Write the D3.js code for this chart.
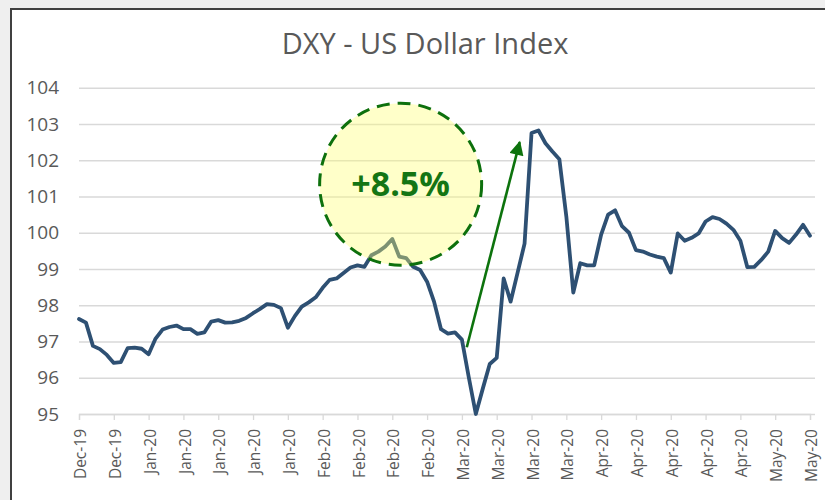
<!DOCTYPE html>
<html>
<head>
<meta charset="utf-8">
<script src="https://cdn.jsdelivr.net/npm/d3@7"></script>
<style>
  body { margin: 0; background: #efefef; }
  svg text { font-family: "Open Sans", sans-serif; }
</style>
</head>
<body>
<div id="chart"></div>
<script>
var width = 825;
var height = 500;

// weekly-ish category labels (one every 5 trading days)
var tickLabels = ["Dec-19", "Dec-19", "Jan-20", "Jan-20", "Jan-20", "Jan-20", "Jan-20",
    "Feb-20", "Feb-20", "Feb-20", "Feb-20", "Mar-20", "Mar-20", "Mar-20", "Mar-20",
    "Apr-20", "Apr-20", "Apr-20", "Apr-20", "Apr-20", "May-20", "May-20"];

// daily DXY closes
var dxyValues = [
    97.62, 97.52, 96.88, 96.79, 96.63, 96.41, 96.43, 96.82, 96.83, 96.80,
    96.65, 97.08, 97.33, 97.40, 97.44, 97.34, 97.34, 97.21, 97.25, 97.55,
    97.59, 97.52, 97.53, 97.57, 97.65, 97.78, 97.90, 98.03, 98.01, 97.92,
    97.38, 97.70, 97.96, 98.08, 98.22, 98.48, 98.70, 98.74, 98.89, 99.04,
    99.10, 99.06, 99.38, 99.48, 99.62, 99.83, 99.34, 99.30, 99.06, 98.97,
    98.65, 98.10, 97.34, 97.22, 97.25, 97.05, 96.00, 95.00, 95.70, 96.38,
    96.55, 98.74, 98.10, 98.90, 99.70, 102.75, 102.82, 102.47, 102.24, 102.03,
    100.45, 98.35, 99.16, 99.10, 99.10, 99.95, 100.50, 100.62, 100.18, 100.00,
    99.52, 99.48, 99.40, 99.34, 99.30, 98.90, 99.98, 99.78, 99.86, 99.98,
    100.31, 100.43, 100.38, 100.25, 100.08, 99.78, 99.05, 99.06, 99.25, 99.48,
    100.05, 99.85, 99.72, 99.95, 100.22, 99.92
];

var yTicks = [95, 96, 97, 98, 99, 100, 101, 102, 103, 104];
var gainLabel = "+8.5%";

var svg = d3.select("#chart").append("svg")
    .attr("width", width)
    .attr("height", height);

// chart frame
svg.append("rect")
    .attr("x", 11).attr("y", 9)
    .attr("width", 830).attr("height", 500)
    .attr("fill", "white")
    .attr("stroke", "#404040")
    .attr("stroke-width", 2);

var x = d3.scaleLinear().domain([0, dxyValues.length - 1]).range([79, 810]);
var y = d3.scaleLinear().domain([95, 104]).range([414, 87.75]);

svg.append("text")
    .attr("x", 425).attr("y", 54)
    .attr("text-anchor", "middle")
    .attr("fill", "#595959")
    .style("font-size", "29px")
    .text("DXY - US Dollar Index");

// gridlines + y labels
var yAxis = d3.axisLeft(y).tickValues(yTicks).tickSize(-(810 - 79 + 5)).tickPadding(20);
var gy = svg.append("g").attr("transform", "translate(79,0)").call(yAxis);
gy.select(".domain").remove();
gy.selectAll(".tick line").attr("stroke", "#d9d9d9").attr("stroke-width", 1.3);
gy.selectAll(".tick text")
    .attr("fill", "#595959")
    .style("font-size", "19px");

// x axis: ticks every 5 points
var tickIdx = tickLabels.map(function(d, i) { return i * 5; });
var xAxis = d3.axisBottom(x).tickValues(tickIdx).tickSize(6)
    .tickFormat(function(d, i) { return tickLabels[i]; });
var gx = svg.append("g").attr("transform", "translate(0,414)").call(xAxis);
gx.select(".domain").attr("stroke", "#d9d9d9").attr("stroke-width", 1.3);
gx.selectAll(".tick line").attr("stroke", "#d9d9d9").attr("stroke-width", 1.3);
gx.selectAll(".tick text")
    .attr("fill", "#595959")
    .style("font-size", "15.5px")
    .attr("text-anchor", "end")
    .attr("transform", "translate(1,15) rotate(-90)")
    .attr("x", 0).attr("y", 0).attr("dy", "0.36em");

// the index line
var line = d3.line()
    .x(function(d, i) { return x(i); })
    .y(function(d) { return y(d); });

svg.append("path")
    .datum(dxyValues)
    .attr("d", line)
    .attr("fill", "none")
    .attr("stroke", "#2e5073")
    .attr("stroke-width", 3.8)
    .attr("stroke-linejoin", "round")
    .attr("stroke-linecap", "round");

// annotation circle
svg.append("circle")
    .attr("cx", x(46.2)).attr("cy", y(101.34))
    .attr("r", 81)
    .attr("fill", "#ffff70")
    .attr("fill-opacity", 0.38)
    .attr("stroke", "#0d700d")
    .attr("stroke-width", 3)
    .attr("stroke-dasharray", "13,8");

svg.append("text")
    .attr("x", x(46.2)).attr("y", y(101.34))
    .attr("dy", "0.36em")
    .attr("text-anchor", "middle")
    .attr("fill", "#147514")
    .style("font-weight", "bold")
    .style("font-size", "34px")
    .text(gainLabel);

// arrow
svg.append("defs").append("marker")
    .attr("id", "arrowhead")
    .attr("viewBox", "0 0 10 10")
    .attr("refX", 9).attr("refY", 5)
    .attr("markerWidth", 6).attr("markerHeight", 5.5)
    .attr("markerUnits", "strokeWidth")
    .attr("orient", "auto")
    .append("path")
    .attr("d", "M0,0 L10,5 L0,10 z")
    .attr("fill", "#0d730d");

svg.append("line")
    .attr("x1", x(55.7)).attr("y1", y(96.84))
    .attr("x2", x(63.3)).attr("y2", y(102.5))
    .attr("stroke", "#0d730d")
    .attr("stroke-width", 2.6)
    .attr("marker-end", "url(#arrowhead)");
</script>
</body>
</html>
